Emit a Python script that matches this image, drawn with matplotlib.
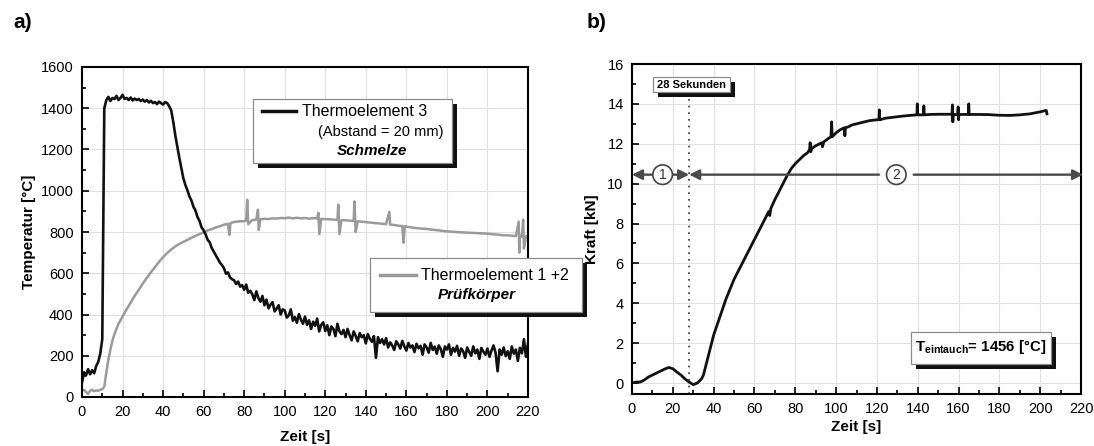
import numpy as np
import matplotlib
matplotlib.use("Agg")
import matplotlib.pyplot as plt
from matplotlib.patches import Rectangle
from matplotlib.lines import Line2D
from matplotlib.ticker import MultipleLocator

plt.rcParams['font.family'] = ['Liberation Sans', 'DejaVu Sans']
plt.rcParams['mathtext.fontset'] = 'custom'
plt.rcParams['mathtext.rm'] = 'Liberation Sans'
plt.rcParams['mathtext.bf'] = 'Liberation Sans:bold'

# --- a) Temperatur -------------------------------------------------------
# Thermoelement 3 (Schmelze), 1 s Raster
t_te3 = list(range(0, 221))
temp_te3 = [
    70, 120, 105, 135, 110, 130, 115, 150, 170, 210,
    280,
    1400, 1440, 1455, 1435, 1450, 1445, 1460, 1440, 1450,
    1465, 1445, 1450, 1440, 1452, 1438, 1447, 1440, 1445, 1435,
    1442, 1432, 1440, 1428, 1436, 1425, 1430, 1420, 1432, 1425,
    1418, 1430, 1425, 1410, 1390, 1335, 1270, 1215, 1160, 1110,
    1060, 1028, 1002, 972, 952, 922, 903, 872, 853, 822,
    808, 788, 762, 750, 722, 705, 688, 670, 652, 640,
    625, 598, 604, 580, 571, 566, 548, 560, 535, 542,
    520, 545, 505, 515, 498, 470, 512, 480, 462, 490,
    445, 472, 430, 448, 460, 415, 428, 445, 400, 425,
    420, 385, 395, 425, 370, 388, 360, 402, 375, 355,
    390, 350, 372, 330, 365, 345, 380, 318, 350, 362,
    320, 348, 300, 342, 330, 295, 355, 318, 305, 325,
    290, 330, 300, 275, 318, 296, 270, 310, 290, 300,
    260, 305, 282, 268, 295, 190, 290, 262, 280, 255,
    285, 240, 265, 250, 228, 270, 255, 235, 272, 245,
    225, 262, 240, 250, 218, 258, 236, 248, 205, 255,
    240, 215, 262, 228, 244, 210, 250, 232, 195, 245,
    230, 255, 205, 238, 220, 248, 200, 235, 222, 190,
    240, 218, 200, 245, 212, 230, 185, 238, 220, 205,
    235, 195, 225, 250, 215, 125, 230, 205, 240, 198,
    222, 185, 245, 210, 230, 175, 238, 212, 280, 195,
    260,
]

# Thermoelement 1 + 2 (Pruefkoerper)
t_te12 = [0, 1, 2, 3, 4, 5, 6, 7, 8, 9, 10, 11, 12, 13, 14, 15, 16, 18,
          20, 22, 24, 26, 28, 30, 32, 34, 36, 38, 40, 42, 44, 46, 48,
          50, 52, 54, 56, 58, 60, 62, 64, 66, 68, 70, 72, 72.7, 73.2, 74,
          76, 78, 80, 81, 81.5, 82, 84, 86, 86.8, 87.2, 88, 90, 92, 94,
          96, 98, 100, 102, 104, 106, 108, 110, 112, 114, 116, 116.6, 117.1,
          118, 120, 122, 124, 126, 126.4, 127, 128, 130, 132, 134, 134.4,
          135, 136, 138, 140, 142, 144, 146, 148, 150, 151.6, 152, 154,
          156, 158, 158.6, 159.2, 160, 162, 164, 166, 168, 170, 172, 174,
          176, 178, 180, 182, 184, 186, 188, 190, 192, 194, 196, 198, 200,
          202, 204, 206, 208, 210, 212, 214, 215.4, 215.7, 216, 217,
          217.6, 218, 219, 220]
temp_te12 = [30, 35, 25, 15, 30, 35, 28, 32, 30, 35, 38, 50, 120, 180, 230,
             272, 305, 355, 390, 425, 458, 490, 520, 550, 578, 605, 630,
             655, 678, 698, 715, 730, 742, 752, 762, 772, 781, 790, 798,
             808, 814, 822, 828, 835, 840, 786, 842, 846, 850, 852, 852,
             856, 956, 838, 858, 860, 908, 810, 862, 864, 863, 866, 865,
             868, 867, 870, 866, 869, 866, 868, 865, 867, 866, 893, 790,
             864, 862, 862, 860, 858, 932, 790, 858, 857, 855, 854, 948,
             800, 852, 850, 848, 846, 844, 842, 840, 838, 898, 836, 834,
             830, 829, 748, 828, 826, 823, 820, 818, 816, 815, 812, 810,
             808, 805, 803, 802, 800, 799, 798, 797, 796, 795, 794, 793,
             792, 790, 788, 786, 784, 784, 782, 780, 850, 700, 785, 778,
             860, 720, 780, 775]

# --- b) Kraft ------------------------------------------------------------
t_kraft = [0, 2, 4, 6, 8, 10, 12, 14, 16, 18, 20, 22, 24, 26, 28, 30, 32,
           34, 35, 36, 37, 38, 40, 42, 44, 46, 48, 50, 52, 54, 56, 58, 60,
           62, 64, 66, 67, 67.5, 68, 70, 72, 74, 76, 78, 80, 82, 84, 86, 87,
           87.3, 87.6, 88, 90, 92, 93, 93.3, 94, 96, 97.5, 97.8, 98.1, 100,
           102, 104, 104.3, 104.6, 106, 108, 110, 112, 114, 116, 118, 120,
           121, 121.2, 121.4, 124, 128, 132, 136, 139.6, 139.8, 140, 142.8,
           143, 143.2, 146, 150, 154, 156.8, 157, 157.2, 157.4, 159.6,
           159.8, 160, 160.2, 164.8, 165, 165.2, 170, 175, 180, 185, 190,
           195, 200, 202, 203, 203.3]
kraft = [0.0, 0.05, 0.05, 0.15, 0.3, 0.4, 0.5, 0.6, 0.7, 0.78, 0.72, 0.55,
         0.4, 0.2, 0.05, -0.08, 0.0, 0.2, 0.4, 0.8, 1.2, 1.6, 2.4, 3.0, 3.6,
         4.2, 4.7, 5.2, 5.6, 6.0, 6.4, 6.8, 7.2, 7.6, 8.0, 8.4, 8.6, 8.4,
         8.75, 9.2, 9.6, 10.0, 10.4, 10.75, 11.0, 11.2, 11.4, 11.55, 11.7,
         12.05, 11.6, 11.75, 11.9, 12.0, 12.05, 11.85, 12.1, 12.25, 12.35,
         13.1, 12.35, 12.55, 12.7, 12.8, 12.4, 12.8, 12.85, 12.95, 13.0,
         13.05, 13.1, 13.15, 13.18, 13.2, 13.22, 13.7, 13.2, 13.28, 13.33,
         13.38, 13.42, 13.45, 14.0, 13.45, 13.45, 13.9, 13.45, 13.47, 13.48,
         13.48, 13.48, 13.95, 13.1, 13.48, 13.45, 13.85, 13.2, 13.47, 13.47,
         14.0, 13.47, 13.47, 13.46, 13.43, 13.42, 13.45, 13.5, 13.6, 13.65,
         13.67, 13.5]

t_mark = 28          # 28 Sekunden
arrow_level = 10.45  # Hoehe der Bereichspfeile
circle_1_pos = 15
circle_2_pos = 129.5
gap_2 = (121, 138)
arrow_end = 221

W, H = 1094, 446
fig = plt.figure(figsize=(W / 100, H / 100), dpi=100)


def fx(x):
    return x / W


def fy(y):
    return 1 - y / H


def shadow_box(x0, y0, x1, y1, off=5, ec='#8c8c8c'):
    fig.patches.append(Rectangle((fx(x0 + off), fy(y1 + off)), (x1 - x0) / W,
                                 (y1 - y0) / H, transform=fig.transFigure,
                                 fc='#111111', ec='none', zorder=5))
    fig.patches.append(Rectangle((fx(x0), fy(y1)), (x1 - x0) / W,
                                 (y1 - y0) / H, transform=fig.transFigure,
                                 fc='white', ec=ec, lw=0.9, zorder=6))


def style_axes(ax):
    ax.grid(True, which='major', color='#e0e0e0', lw=0.8)
    ax.set_axisbelow(True)
    for s in ax.spines.values():
        s.set_linewidth(1.5)
    ax.tick_params(which='both', direction='in', top=False, right=False,
                   labelsize=10.5, width=1.2)
    ax.tick_params(which='major', length=5, pad=6)
    ax.tick_params(which='minor', length=3)


# a) ----------------------------------------------------------------------
ax1 = fig.add_axes([fx(82), fy(397), 446 / W, 330 / H])
ax1.plot(t_te12, temp_te12, color='#9a9a9a', lw=1.8)
ax1.plot(t_te3, temp_te3, color='#111111', lw=1.9)
ax1.set_xlim(0, 220)
ax1.set_ylim(0, 1600)
ax1.xaxis.set_major_locator(MultipleLocator(20))
ax1.xaxis.set_minor_locator(MultipleLocator(10))
ax1.yaxis.set_major_locator(MultipleLocator(200))
ax1.yaxis.set_minor_locator(MultipleLocator(100))
style_axes(ax1)
ax1.set_xlabel('Zeit [s]', fontsize=11, fontweight='bold')
ax1.set_ylabel('Temperatur [°C]', fontsize=11, fontweight='bold')
ax1.xaxis.set_label_coords(0.5, -0.10)
ax1.yaxis.set_label_coords(-0.103, 0.5)

# legend box 1
shadow_box(253, 99, 452, 163)
fig.lines.append(Line2D([fx(262), fx(296)], [fy(111), fy(111)],
                        transform=fig.transFigure, color='#111111', lw=2.5,
                        zorder=7))
fig.text(fx(302), fy(111), 'Thermoelement 3', fontsize=11.5, va='center',
         zorder=7)
fig.text(fx(318), fy(132), '(Abstand = 20 mm)', fontsize=10.5, va='center',
         zorder=7)
fig.text(fx(372), fy(151), 'Schmelze', fontsize=11, fontweight='bold',
         style='italic', ha='center', va='center', zorder=7)

# legend box 2
shadow_box(370, 258, 582, 312)
fig.lines.append(Line2D([fx(380), fx(416)], [fy(275), fy(275)],
                        transform=fig.transFigure, color='#9a9a9a', lw=2.5,
                        zorder=7))
fig.text(fx(421), fy(275), 'Thermoelement 1 +2', fontsize=11.5, va='center',
         zorder=7)
fig.text(fx(477), fy(295), 'Prüfkörper', fontsize=11, fontweight='bold',
         style='italic', ha='center', va='center', zorder=7)

# b) ----------------------------------------------------------------------
ax2 = fig.add_axes([fx(632), fy(394), 449 / W, 330 / H])
ax2.plot(t_kraft, kraft, color='#111111', lw=2.0)
ax2.set_xlim(0, 220)
ax2.set_ylim(-0.55, 16)
ax2.xaxis.set_major_locator(MultipleLocator(20))
ax2.xaxis.set_minor_locator(MultipleLocator(10))
ax2.yaxis.set_major_locator(MultipleLocator(2))
ax2.yaxis.set_minor_locator(MultipleLocator(1))
style_axes(ax2)
ax2.set_xlabel('Zeit [s]', fontsize=11, fontweight='bold')
ax2.set_ylabel('Kraft [kN]', fontsize=11, fontweight='bold')
ax2.xaxis.set_label_coords(0.5, -0.08)
ax2.yaxis.set_label_coords(-0.073, 0.5)

ax2.plot([t_mark, t_mark], [-0.55, 14.6], color='#333333', lw=1.2,
         ls=(0, (1, 3)))

arrow_kw = dict(color='#4a4a4a', lw=1.7, shrinkA=0, shrinkB=0,
                mutation_scale=15)
ax2.annotate('', xy=(0, arrow_level), xytext=(t_mark, arrow_level),
             arrowprops=dict(arrowstyle='<|-|>', **arrow_kw),
             annotation_clip=False)
ax2.annotate('', xy=(t_mark, arrow_level), xytext=(gap_2[0], arrow_level),
             arrowprops=dict(arrowstyle='-|>', **arrow_kw),
             annotation_clip=False)
ax2.annotate('', xy=(arrow_end, arrow_level), xytext=(gap_2[1], arrow_level),
             arrowprops=dict(arrowstyle='-|>', **arrow_kw),
             annotation_clip=False)
for pos, lab in [(circle_1_pos, '1'), (circle_2_pos, '2')]:
    ax2.text(pos, arrow_level, lab, fontsize=10, ha='center', va='center',
             color='#333333',
             bbox=dict(boxstyle='circle,pad=0.2', fc='white', ec='#444444',
                       lw=1.2))

# 28 Sekunden box
shadow_box(653, 77, 730, 92, off=5)
fig.text(fx(691.5), fy(84.5), '28 Sekunden', fontsize=8, fontweight='bold',
         ha='center', va='center', zorder=7)

# T_eintauch box
shadow_box(911, 332, 1051, 364, off=5)
fig.text(fx(981), fy(347), r'T$_{\mathbf{eintauch}}$= 1456 [°C]',
         fontsize=10.8, fontweight='bold', ha='center', va='center', zorder=7)

fig.text(fx(23), fy(22), 'a)', fontsize=15, fontweight='bold', ha='center',
         va='center')
fig.text(fx(597), fy(23), 'b)', fontsize=15, fontweight='bold', ha='center',
         va='center')

fig.savefig('out.png', dpi=100)
